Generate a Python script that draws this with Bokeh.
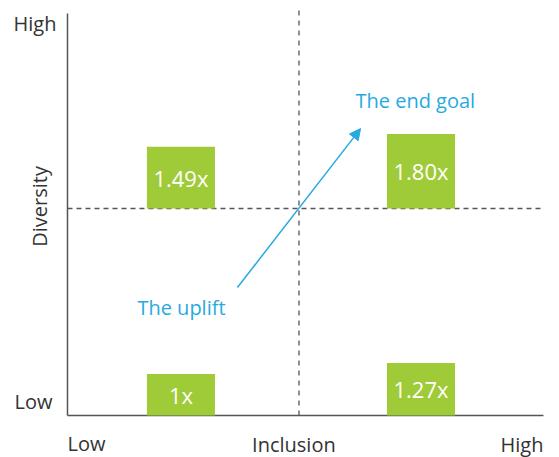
import math
from bokeh.plotting import figure
from bokeh.models import Range1d, ColumnDataSource, Label, Arrow, NormalHead
from bokeh.core.properties import value
from bokeh.embed import file_html
from bokeh.resources import INLINE

# ---- data ----
quadrants = ["Low incl / Low div", "High incl / Low div", "Low incl / High div", "High incl / High div"]
inclusion = ["Low", "High", "Low", "High"]
diversity = ["Low", "Low", "High", "High"]
multipliers = [1.0, 1.27, 1.49, 1.80]
bar_labels = ["1x", "1.27x", "1.49x", "1.80x"]
axis_ticks = ["Low", "High"]

# ---- layout (styling, not data) ----
X_POS = {"Low": 0.49, "High": 1.527}
Y_BASE = {"Low": 0.0, "High": 5.0}
BAR_W = 0.294
GREEN = "#A0CB39"
BLUE = "#27A9E1"
GREY = "#333333"
FONT = "Open Sans"

xs = [X_POS[i] for i in inclusion]
bottoms = [Y_BASE[d] for d in diversity]
tops = [b + m for b, m in zip(bottoms, multipliers)]
mids = [(b + t) / 2 for b, t in zip(bottoms, tops)]
src = ColumnDataSource(dict(x=xs, bottom=bottoms, top=tops, mid=mids, label=bar_labels))

p = figure(width=559, height=457, output_backend="svg", toolbar_location=None,
           x_range=Range1d(-0.2894, 2.1253), y_range=Range1d(-1.0145, 10.024),
           x_axis_type=None, y_axis_type=None, min_border=0)
p.outline_line_color = None
p.xgrid.visible = False
p.ygrid.visible = False
p.background_fill_color = "white"

# axes lines
p.segment(x0=[0, 0], y0=[0, 0], x1=[0, 2.056], y1=[9.71, 0], line_color="#555555", line_width=1.5)
# quadrant dividers
p.segment(x0=[1], y0=[0], x1=[1], y1=[9.78], line_color="#555555", line_width=1.3, line_dash="5 5")
p.segment(x0=[0], y0=[5], x1=[2.052], y1=[5], line_color="#555555", line_width=1.3, line_dash="5 4")

# bars
p.vbar(x="x", bottom="bottom", top="top", width=BAR_W, source=src, fill_color=GREEN, line_color=None)
p.text(x="x", y="mid", text="label", source=src, text_color="white", text_font=value(FONT),
       text_font_size="22px", text_align="center", text_baseline="middle")

# arrow
uplift_pt = (0.734, 3.09)
goal_pt = (1.266, 6.93)
p.add_layout(Arrow(end=NormalHead(size=11, fill_color=BLUE, line_color=BLUE),
                   x_start=uplift_pt[0], y_start=uplift_pt[1], x_end=goal_pt[0], y_end=goal_pt[1],
                   line_color=BLUE, line_width=1.5))

def lab(text, x, y, align="left", color=GREY, angle=0.0, baseline="alphabetic"):
    p.add_layout(Label(x=x, y=y, text=text, text_font=FONT, text_font_size="20px",
                       text_color=color, text_align=align, text_baseline=baseline, angle=angle))

lab("The uplift", 0.302, 2.61, color=BLUE)
lab("The end goal", 1.244, 7.62, color=BLUE)
lab(axis_ticks[1], -0.2333, 9.48)
lab(axis_ticks[0], -0.2290, 0.339)
lab(axis_ticks[0], 0.0, -0.675)
lab("Inclusion", 0.978, -0.70, align="center")
lab(axis_ticks[1], 2.056, -0.70, align="right")
lab("Diversity", -0.121, 5.05, align="center", angle=math.pi / 2)

open("out.html", "w").write(file_html(p, INLINE))
